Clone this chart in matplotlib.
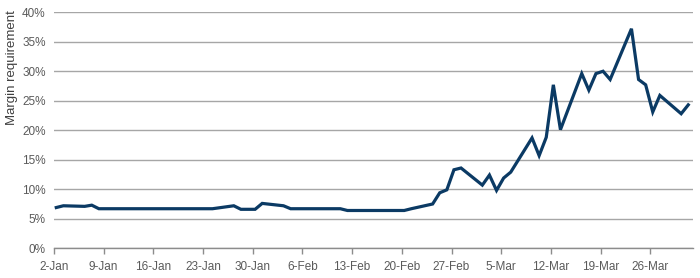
import pandas as pd
import numpy as np
import matplotlib.pyplot as plt
import matplotlib.dates as mdates
from matplotlib.ticker import FuncFormatter

plt.rcParams['font.family'] = ['Liberation Sans', 'DejaVu Sans']

# trading days, 2 Jan - 31 Mar 2020
dates = pd.bdate_range('2020-01-02', '2020-03-31')

# margin requirement (%)
jan = [6.9, 7.2,
       7.1, 7.3, 6.7, 6.7, 6.7,
       6.7, 6.7, 6.7, 6.7, 6.7,
       6.7, 6.7, 6.7, 6.7, 6.7,
       7.2, 6.6, 6.6, 6.6, 7.6]
feb = [7.2, 6.7, 6.7, 6.7, 6.7,
       6.7, 6.7, 6.4, 6.4, 6.4,
       6.4, 6.4, 6.4, 6.4, 6.7,
       7.5, 9.4, 9.9, 13.3, 13.6]
mar = [10.7, 12.4, 9.8, 11.9, 12.9,
       18.7, 15.7, 18.8, 27.7, 20.1,
       29.6, 26.8, 29.6, 30.0, 28.6,
       37.2, 28.6, 27.7, 23.1, 25.9,
       22.8, 24.3]
margin = jan + feb + mar

tick_dates = pd.date_range('2020-01-02', '2020-03-26', freq='7D')

fig = plt.figure(figsize=(7, 2.78), dpi=100)
ax = fig.add_axes([0.077, 0.107, 0.913, 0.849])

# points sit a little right of the date ticks in the original
ax.plot(dates + pd.Timedelta(hours=8), margin, color='#0b3a64', lw=2.3,
        solid_joinstyle='miter', zorder=3)

ax.set_xlim(pd.Timestamp('2020-01-02'), pd.Timestamp('2020-04-01'))
ax.set_ylim(0, 40)
ax.set_yticks(np.arange(0, 41, 5))
ax.yaxis.set_major_formatter(FuncFormatter(lambda v, p: f'{v:.0f}%'))
ax.set_xticks(tick_dates)
ax.xaxis.set_major_formatter(mdates.DateFormatter('%-d-%b'))

ax.grid(axis='y', color='#a6a6a6', lw=1.0)
ax.set_axisbelow(True)
for s in ['top', 'right', 'left']:
    ax.spines[s].set_visible(False)
ax.spines['bottom'].set_color('#8c8c8c')
ax.spines['bottom'].set_linewidth(1.0)

ax.tick_params(axis='y', length=0, pad=6, labelsize=8.5, labelcolor='#5a5a5a')
ax.tick_params(axis='x', length=4, width=1, color='#8c8c8c', pad=5,
               labelsize=8.5, labelcolor='#5a5a5a')
ax.set_ylabel('Margin requirement', fontsize=9.5, color='#404040')
ax.yaxis.set_label_coords(-0.056, 0.765)

fig.savefig('out.png', dpi=100)
